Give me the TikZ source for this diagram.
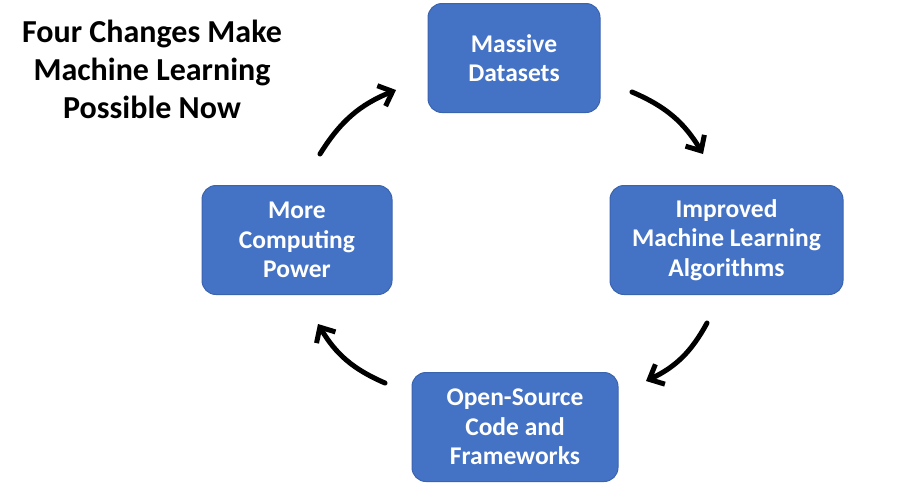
\documentclass[tikz,border=0pt]{standalone}
\usepackage{fontspec}
\setmainfont{Carlito}
\usetikzlibrary{arrows.meta}
\definecolor{boxblue}{HTML}{4472C4}
\definecolor{boxedge}{HTML}{3B64AE}
\begin{document}
\begin{tikzpicture}[x=1pt,y=-1pt,>={Straight Barb[length=12pt,width=22pt,line width=5pt]},
  stagebox/.style={draw=boxedge,line width=1pt,fill=boxblue,rounded corners=14pt,text=white,align=center,
    font=\bfseries\fontsize{25.5}{29.5}\selectfont,minimum height=109pt,inner sep=0pt},
  cycarrow/.style={->,line width=5pt,line cap=round,bend left=18}]
\useasboundingbox (0,0) rectangle (919,491);
\node[font=\bfseries\fontsize{32}{38}\selectfont,align=center] (title) at (152,69) {Four Changes Make\\Machine Learning\\Possible Now};
\node[stagebox,minimum width=172pt] (data) at (514,58) {Massive\\Datasets};
\node[stagebox,minimum width=233pt] (algo) at (726.5,240) {Improved\\Machine Learning\\Algorithms};
\node[stagebox,minimum width=206pt] (code) at (515,427) {Open-Source\\Code and\\Frameworks};
\node[stagebox,minimum width=190pt] (power) at (297,240) {More\\Computing\\Power};
\coordinate (a1) at (320,154);\coordinate (b1) at (396,90);
\coordinate (a2) at (632,92);\coordinate (b2) at (703,154);
\coordinate (a3) at (707,323);\coordinate (b3) at (646,381);
\coordinate (a4) at (385,383);\coordinate (b4) at (318,324);
\draw[cycarrow] (a1) to (b1);
\draw[cycarrow] (a2) to (b2);
\draw[cycarrow] (a3) to (b3);
\draw[cycarrow] (a4) to (b4);
\end{tikzpicture}
\end{document}
